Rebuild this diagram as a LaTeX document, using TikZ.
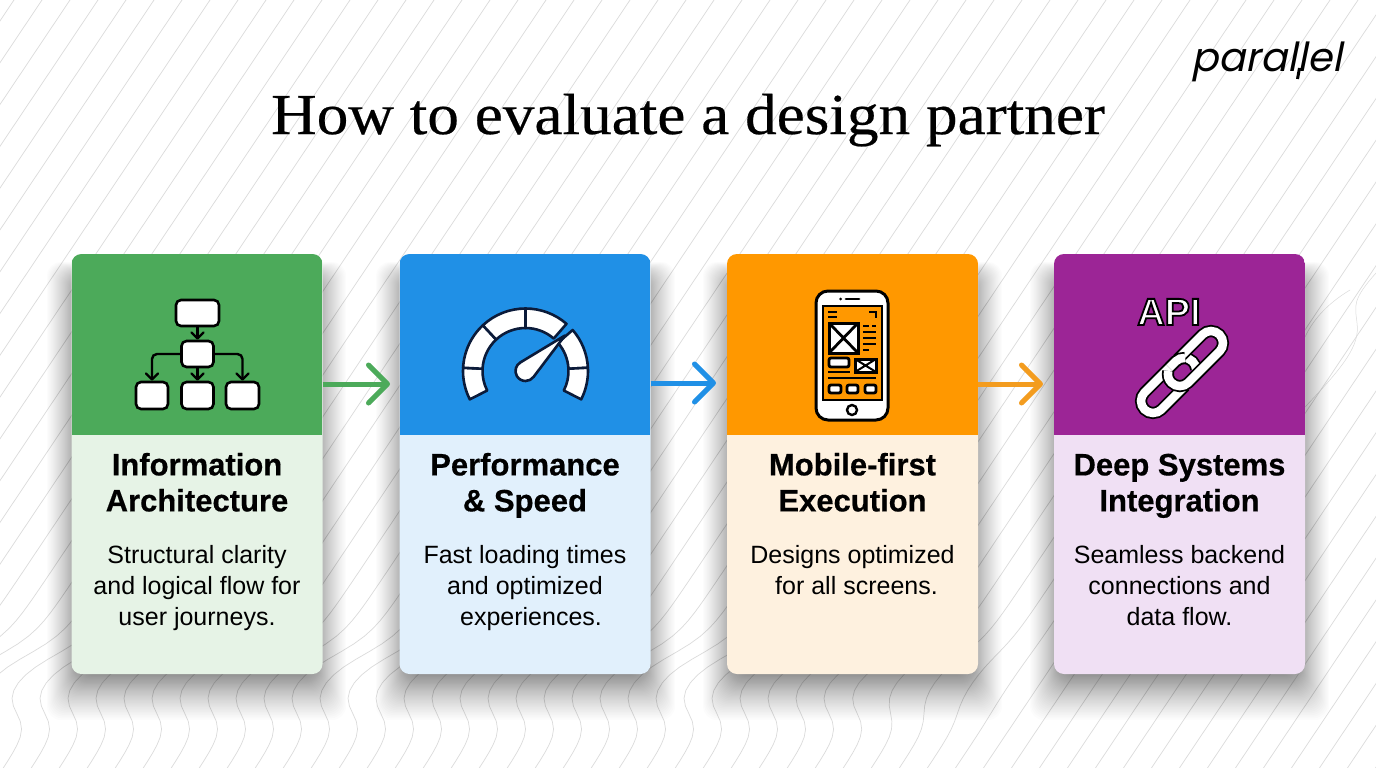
\documentclass[tikz,border=0pt]{standalone}
\usepackage{fontspec}
\setmainfont{Liberation Sans}
\newfontfamily\headfont{Liberation Sans}[UprightFont=* Bold,FakeBold=0.5]
\newfontfamily\titlefont[FakeStretch=1.09,FakeBold=0.4]{Liberation Serif}
\newfontfamily\logofont[FakeSlant=0.2]{Poppins}
\usetikzlibrary{arrows.meta}
\definecolor{headA}{HTML}{4CAA5A}
\definecolor{headB}{HTML}{2090E6}
\definecolor{headC}{HTML}{FF9800}
\definecolor{headD}{HTML}{9C2596}
\definecolor{lightA}{HTML}{E6F3E6}
\definecolor{lightB}{HTML}{E1F0FC}
\definecolor{lightC}{HTML}{FEF1DF}
\definecolor{lightD}{HTML}{F0E0F4}
\definecolor{navy}{HTML}{0B1B3A}
\definecolor{arrowC}{HTML}{F39C1F}
\tikzset{
  x=1pt,y=-1pt,
  declare function={bend(\t)=tanh(max(-4,min(4,\t)));},
  bgline/.style={draw=black!14,line width=0.7pt},
  cardbox/.style={minimum width=251,minimum height=420,inner sep=0,rounded corners=10},
  headtext/.style={anchor=north,align=center,inner sep=0,font=\headfont\fontsize{31}{36}\selectfont},
  bodytext/.style={anchor=north,align=center,inner sep=0,font=\fontsize{25}{31}\selectfont},
  flowarrow/.style={-{Straight Barb[length=19pt,width=38pt,round]},line width=5pt},
  orgbox/.style={draw=black,fill=white,line width=2.6pt,rounded corners=5,inner sep=0},
  orgline/.style={draw=black,line width=2.4pt,rounded corners=5,-{Straight Barb[length=6pt,width=12pt,round]}},
  gaugepart/.style={draw=navy,fill=white,line width=2.6pt,line join=round},
  phoneline/.style={draw=black,line width=2.8pt},
  phonebox/.style={draw=black,fill=white,line width=2.8pt},
  linkstroke/.style={draw=black,double=white,double distance=8.5pt,line width=1.8pt},
}
\begin{document}
\begin{tikzpicture}
\useasboundingbox (0,0) rectangle (1376,768);
\fill[white] (0,0) rectangle (1376,768);
% background lines
\begin{scope}
\clip (0,0) rectangle (1376,768);
\foreach \k in {0,...,68}{
  \pgfmathsetmacro\xz{14+28*\k}
  \pgfmathsetmacro\amp{max(0,min(1,(1000-(\xz-476))/120))}
  \draw[bgline] plot[domain=0:768,samples=100,variable=\yy]
    ({\xz-0.67*\yy+\amp*(24*(1+bend((\yy-713)/20))+24*(1-bend((\yy-655)/22))-48)},{\yy});
}
\draw[bgline,line width=0.5pt] (1305,407) .. controls (1345,365) and (1360,345) .. (1357,323) .. controls (1355,305) and (1352,300) .. (1376,273);
\draw[bgline,line width=0.5pt] (1305,337) .. controls (1312,322) and (1325,305) .. (1350,290);
\end{scope}
% shadows
\foreach \xl in {71,400,727,1054}{
  \foreach \s in {0,...,47}{
    \pgfmathsetmacro\ee{(1-\s/48)^1.7}
    \fill[black,opacity=0.0125,rounded corners=14] (\xl+10-34*\ee,280-18*\ee) rectangle (\xl+241+34*\ee,672+48*\ee);
  }
}
% cards
\foreach \n/\xc/\hd/\lt/\ttl/\txt in {
  1/197/headA/lightA/{Information\\Architecture}/{Structural clarity\\and logical flow for\\user journeys.},
  2/525/headB/lightB/{Performance\\\& Speed}/{Fast loading times\\and optimized\\\hspace*{12pt}experiences.},
  3/852.5/headC/lightC/{Mobile-first\\Execution}/{Designs optimized\\\hspace*{8pt}for all screens.},
  4/1179.5/headD/lightD/{Deep Systems\\Integration}/{Seamless backend\\connections and\\data flow.}}{
  \node[cardbox,fill=\lt,path picture={\fill[\hd,sharp corners] (path picture bounding box.north west) rectangle ([yshift=-181pt]path picture bounding box.north east);}] (card\n) at (\xc,464) {};
  \node[headtext] (head\n) at (\xc,450) {\strut\ttl};
  \node[bodytext] (body\n) at (\xc,541.5) {\strut\txt};
}
% title, logo
\node[anchor=base,inner sep=0,font=\titlefont\fontsize{58}{58}\selectfont] (title) at (688,134) {How to evaluate a design partner};
\node[anchor=base,inner sep=0,font=\logofont\fontsize{40}{40}\selectfont] (logo) at (1267,71) {parallel};
\draw[black,line width=3pt] (1299.5,68) -- (1297.5,79);
% arrows
\coordinate (tipA) at (390,384);
\coordinate (tipB) at (716,383);
\coordinate (tipC) at (1043,384);
\draw[flowarrow,headA] (card1.east |- tipA) -- (tipA);
\draw[flowarrow,headB] (card2.east |- tipB) -- (tipB);
\draw[flowarrow,arrowC] (card3.east |- tipC) -- (tipC);
% org chart
\node[orgbox,minimum width=43,minimum height=26] (orgtop) at (197.5,313) {};
\node[orgbox,minimum width=32,minimum height=26] (orgmid) at (197.5,354) {};
\node[orgbox,minimum width=32,minimum height=27] (orgl) at (152,395.5) {};
\node[orgbox,minimum width=32,minimum height=27] (orgc) at (197.5,395.5) {};
\node[orgbox,minimum width=33,minimum height=27] (orgr) at (242.5,395.5) {};
\draw[orgline] (orgtop) -- (orgmid);
\draw[orgline] (orgmid) -- (orgc);
\draw[orgline] (orgmid.west) -| (orgl.north);
\draw[orgline] (orgmid.east) -| (orgr.north);
% gauge
\begin{scope}[shift={(525.5,371)},y=1pt]
\foreach \aa/\ab in {207/177,177/133,133/90,90/49,41/3,3/-27}
  \draw[gaugepart] (\aa:62.5) arc[start angle=\aa,end angle=\ab,radius=62.5]
    -- (\ab:43) arc[start angle=\ab,end angle=\aa,radius=43] -- cycle;
\draw[gaugepart] (42:53) -- (120:10) arc[start angle=120,end angle=324,radius=10] -- cycle;
\end{scope}
% phone
\draw[phonebox,line width=3pt,rounded corners=12] (816,291) rectangle (888,420);
\fill[black] (840.5,299) circle (1.5);
\draw[phoneline,line cap=round] (846,299) -- (859,299);
\draw[black,line width=2.4pt] (852,410) circle (5);
\draw[draw=black,fill=headC,line width=2.6pt] (823,306) rectangle (882,400);
\draw[phoneline] (828,312) -- (837,312) (828,317) -- (837,317);
\draw[phoneline] (869,312) -- (876,312) -- (876,318);
\draw[phonebox,line width=3pt] (829,323) rectangle (858,353);
\draw[phoneline] (829,323) -- (858,353) (858,323) -- (829,353);
\draw[phoneline] (863,326) -- (869,326) (872,326) -- (876,326);
\foreach \yl in {332,338,344}
  \draw[phoneline] (863,\yl) -- (876,\yl);
\draw[phoneline] (863,350) -- (869,350);
\draw[phonebox,rounded corners=2] (829,358) rectangle (849,367);
\draw[phonebox,line width=3pt] (855,359) rectangle (876,372);
\draw[phoneline,line width=2pt] (855,359) -- (876,372) (876,359) -- (855,372);
\draw[phoneline] (828,372) -- (850,372);
\draw[phoneline] (828,378) -- (876,378);
\draw[phonebox,rounded corners=2] (829,385) rectangle (841,393);
\draw[phonebox,rounded corners=2] (847,385) rectangle (858,393);
\draw[phonebox,rounded corners=2] (865,385) rectangle (876,393);
% chain
\node[anchor=base,inner sep=0,text=white,font=\bfseries\fontsize{38}{38}\selectfont] (api) at (1169,325) {\special{pdf:code 0 0 0 RG 2 Tr 1.8 w}API\special{pdf:code 0 Tr}};
\begin{scope}[shift={(1182,372)},y=1pt,rotate=45]
\draw[linkstroke] (-8,-12) -- (-41,-12) arc[start angle=270,end angle=90,radius=12] -- (3,12) arc[start angle=90,end angle=-40,radius=12];
\draw[linkstroke] (6,12) -- (41,12) arc[start angle=90,end angle=-90,radius=12] -- (-3,-12) arc[start angle=270,end angle=120,radius=12];
\draw[linkstroke] (-6,12) -- (3,12) arc[start angle=90,end angle=40,radius=12];
\end{scope}
\end{tikzpicture}
\end{document}
